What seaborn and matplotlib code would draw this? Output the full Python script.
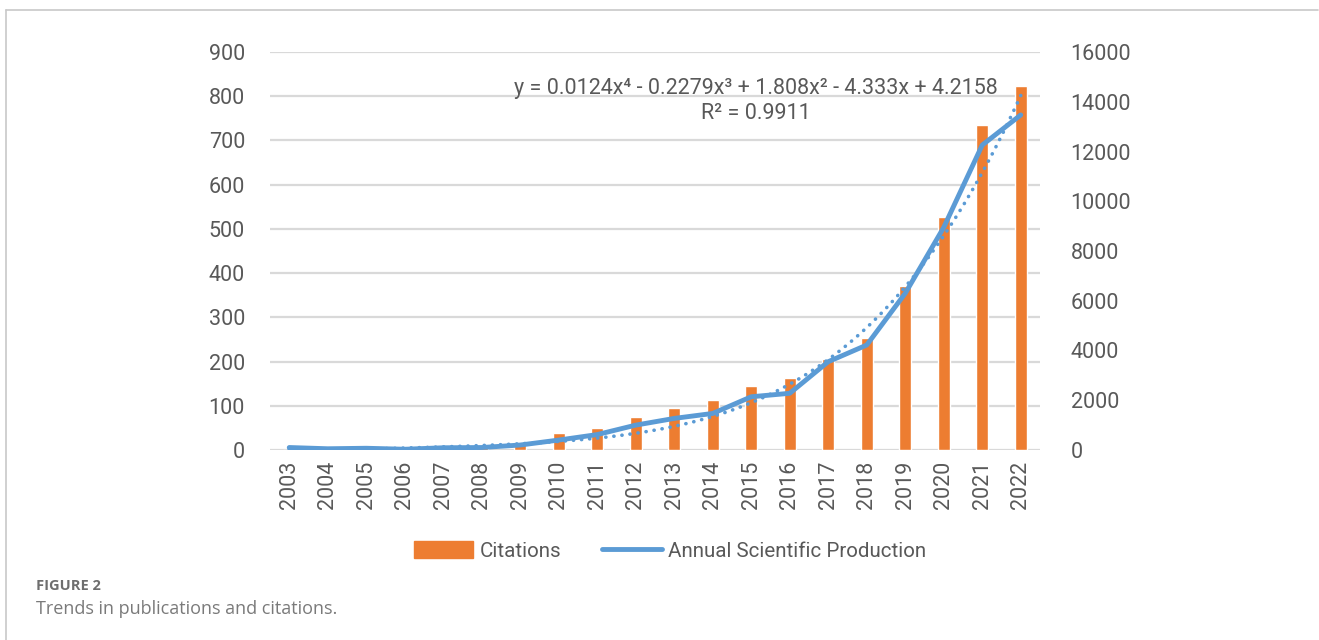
import numpy as np
import pandas as pd
import matplotlib
matplotlib.use("Agg")
import matplotlib.pyplot as plt
from matplotlib.lines import Line2D
import seaborn as sns

years = [str(y) for y in range(2003, 2023)]
citations = [1, 1, 2, 2, 4, 6, 17, 38, 49, 75, 94, 113, 145, 162, 206, 253, 371, 526, 735, 823]
production = [100, 50, 70, 30, 90, 100, 200, 400, 620, 1000, 1270, 1470, 2140, 2280, 3550, 4220, 6300, 8950, 12260, 13470]
left_ticks = list(range(0, 901, 100))
right_ticks = list(range(0, 16001, 2000))
# polynomial trendline (order 4) as stated on the chart, highest power first
trend_coef = [0.0124, -0.2279, 1.808, -4.333, 4.2158]
r_squared = 0.9911
eq_text = ("y = 0.0124x\u2074 - 0.2279x\u00b3 + 1.808x\u00b2 - 4.333x + 4.2158\n"
           "R\u00b2 = 0.9911")

sns.set_style("white")
plt.rcParams['font.family'] = ['Roboto', 'DejaVu Sans']

df = pd.DataFrame({"year": years, "citations": citations, "production": production,
                   "idx": np.arange(len(years))})

fig = plt.figure(figsize=(13.19, 6.40), dpi=100)
ax = fig.add_axes([270/1319, 1-450/640, (1040-270)/1319, (450-52)/640])
ax2 = ax.twinx()

tick_color = "#595959"
grid_color = "#d9d9d9"
orange = "#ED7D31"
blue = "#5B9BD5"

sns.barplot(data=df, x="year", y="citations", color=orange, width=0.32, ax=ax,
            saturation=1, zorder=2)
# trendline (x = 1..n in Excel)
xf = np.linspace(1, len(years), 300)
ax.plot(xf-1, np.polyval(trend_coef, xf), color=blue, lw=2.6, linestyle=(0, (0.05, 2.2)),
        dash_capstyle='round', zorder=3)

sns.lineplot(data=df, x="idx", y="production", color=blue, lw=3.5, ax=ax2,
             solid_capstyle='round', solid_joinstyle='round', zorder=4)

ax.set_ylim(0, 900)
ax2.set_ylim(0, 16000)
ax.set_xlim(-0.5, len(years)-0.5)
ax.set_yticks(left_ticks)
ax2.set_yticks(right_ticks)
for a in (ax, ax2):
    for s in a.spines.values():
        s.set_visible(False)
    a.set_xlabel("")
    a.set_ylabel("")
ax.yaxis.grid(True, color=grid_color, lw=1.6, zorder=0)
ax.set_axisbelow(True)
ax.tick_params(axis='y', length=0, pad=18, labelsize=15.5, labelcolor=tick_color)
ax2.tick_params(axis='y', length=0, pad=22, labelsize=15.5, labelcolor=tick_color)
ax.tick_params(axis='x', length=0, pad=8, labelsize=15.5, labelcolor=tick_color,
               labelrotation=90)
ax2.set_zorder(ax.get_zorder()+1)
ax2.patch.set_visible(False)

fig.text(756/1319, 1-101/640, eq_text, ha='center', va='center', fontsize=15.5,
         color=tick_color, linespacing=1.25)

handles = [plt.Rectangle((0, 0), 1, 1, color=orange),
           Line2D([0], [0], color=blue, lw=3.5)]
fig.legend(handles, ["Citations", "Annual Scientific Production"], loc='center',
           bbox_to_anchor=(670/1319, 1-551/640), ncol=2, frameon=False,
           fontsize=14.8, labelcolor=tick_color, handlelength=2.9, handleheight=0.9,
           handletextpad=0.3, columnspacing=2.0)

fig.text(36/1319, 1-586/640, "FIGURE 2", fontsize=10.5, fontweight='bold',
         color="#6e6e6e", va='center', ha='left', family=['Open Sans', 'DejaVu Sans'])
fig.text(36/1319, 1-609/640, "Trends in publications and citations.", fontsize=13,
         color="#7a7a7a", va='center', ha='left', family=['Open Sans', 'DejaVu Sans'])

fig.add_artist(Line2D([6/1319, 1318/1319], [1-10/640, 1-10/640], color="#c8c8c8", lw=1.2))
fig.add_artist(Line2D([6/1319, 6/1319], [1-10/640, 0], color="#c8c8c8", lw=1.2))

fig.savefig("out.png", dpi=100)
